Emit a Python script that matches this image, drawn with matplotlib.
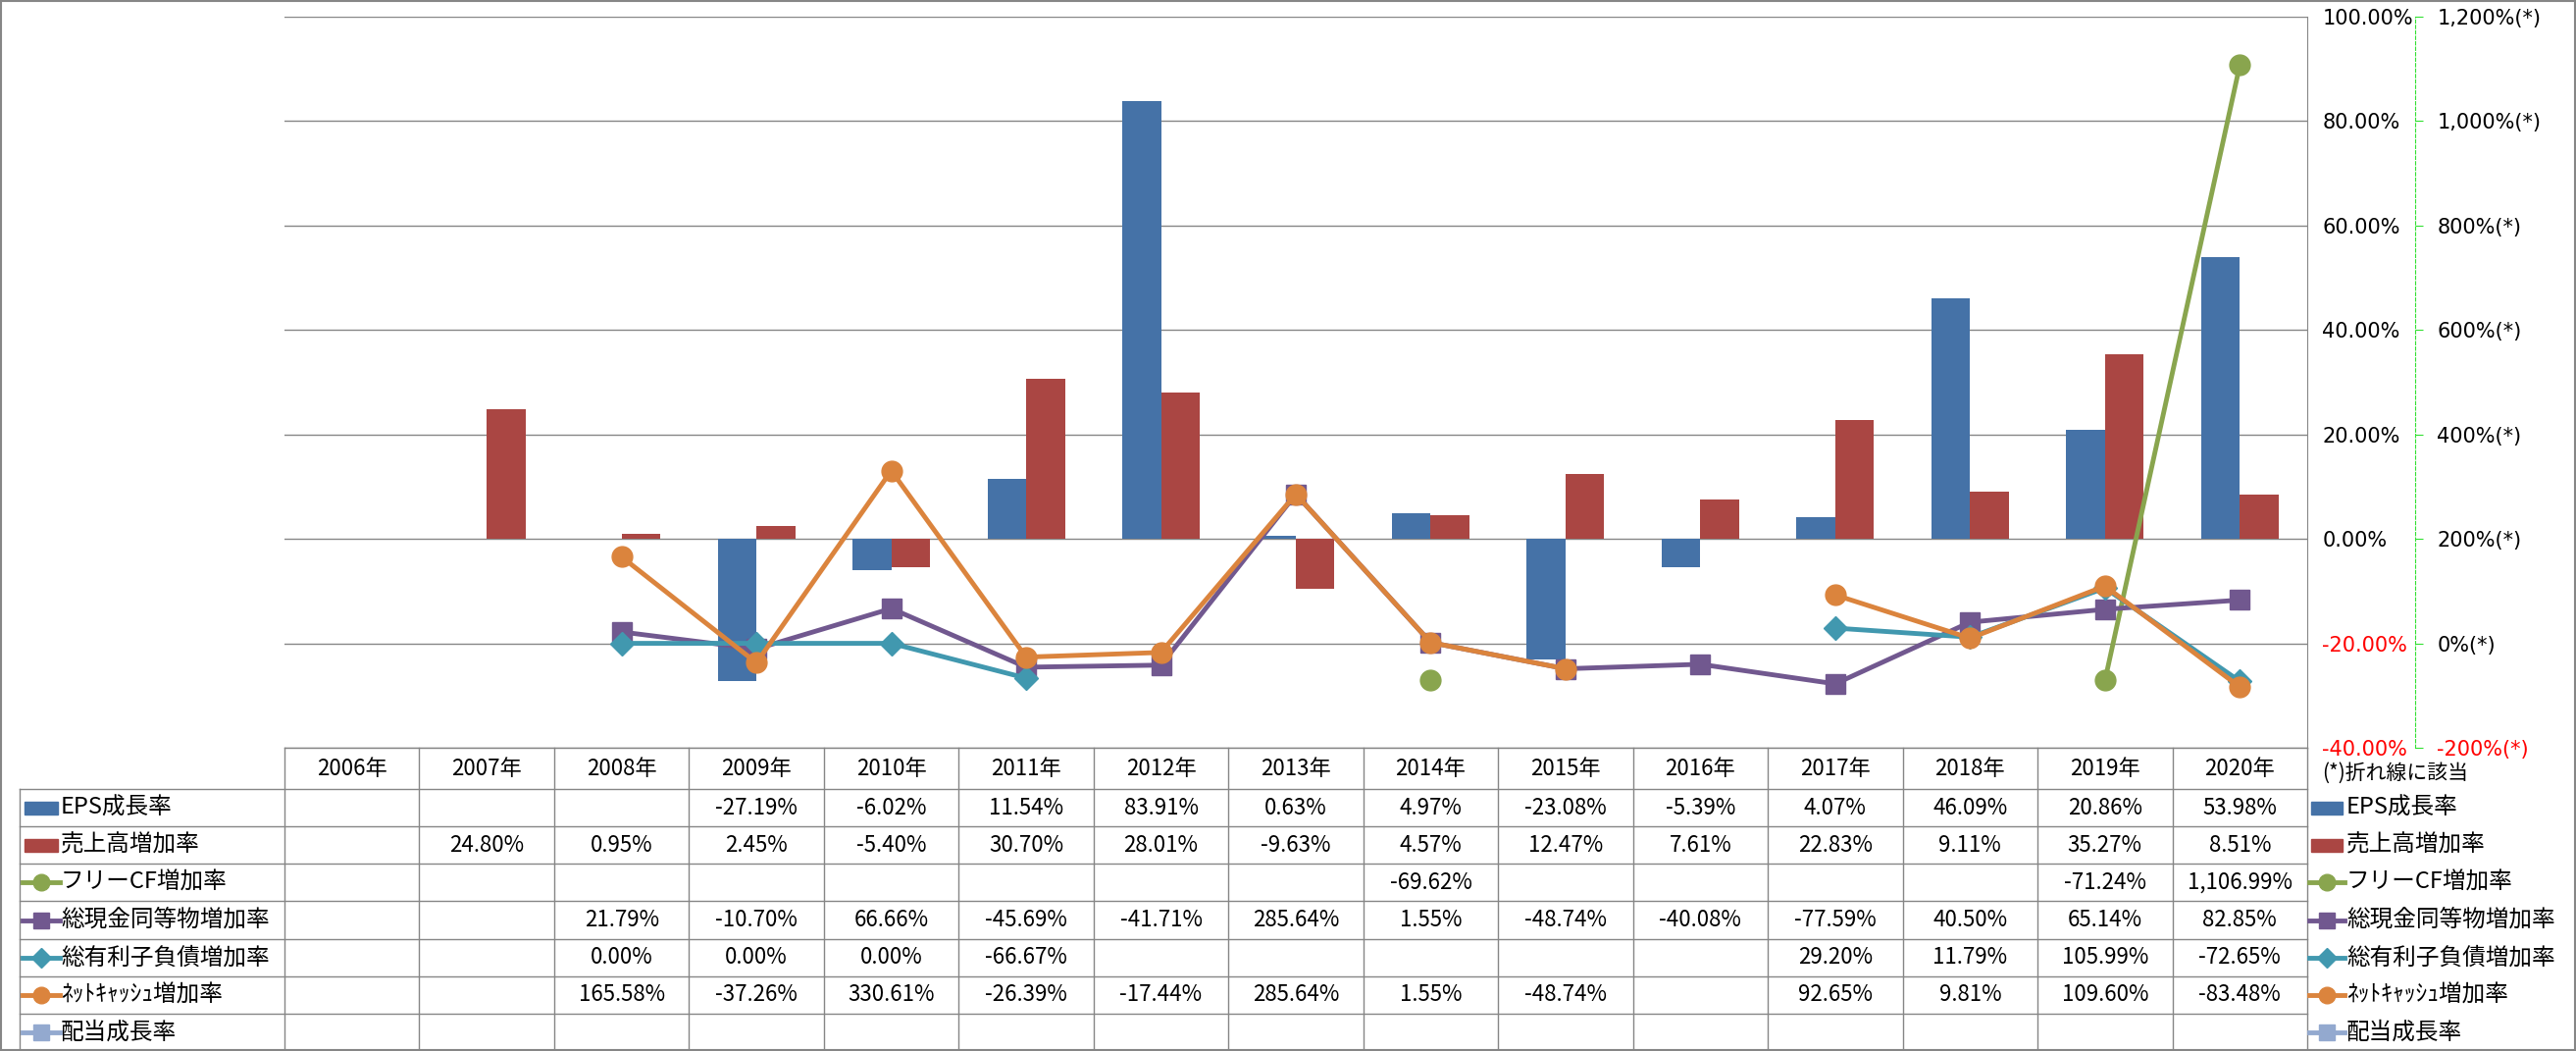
import numpy as np
import matplotlib.pyplot as plt
from matplotlib.patches import Rectangle

plt.rcParams['font.family'] = ['Noto Sans CJK JP', 'DejaVu Sans']

nan = np.nan
years = ['2006年', '2007年', '2008年', '2009年', '2010年', '2011年', '2012年', '2013年',
         '2014年', '2015年', '2016年', '2017年', '2018年', '2019年', '2020年']

# 棒グラフ (左軸)
eps = [nan, nan, nan, -27.19, -6.02, 11.54, 83.91, 0.63, 4.97, -23.08, -5.39, 4.07, 46.09, 20.86, 53.98]
sales = [nan, 24.80, 0.95, 2.45, -5.40, 30.70, 28.01, -9.63, 4.57, 12.47, 7.61, 22.83, 9.11, 35.27, 8.51]

# 折れ線 (右軸)
free_cf = [nan] * 8 + [-69.62] + [nan] * 4 + [-71.24, 1106.99]
cash = [nan, nan, 21.79, -10.70, 66.66, -45.69, -41.71, 285.64, 1.55, -48.74, -40.08, -77.59, 40.50, 65.14, 82.85]
debt = [nan, nan, 0.00, 0.00, 0.00, -66.67, nan, nan, nan, nan, nan, 29.20, 11.79, 105.99, -72.65]
netcash = [nan, nan, 165.58, -37.26, 330.61, -26.39, -17.44, 285.64, 1.55, -48.74, nan, 92.65, 9.81, 109.60, -83.48]
dividend = [nan] * 15

left_ticks = [-40, -20, 0, 20, 40, 60, 80, 100]
right_ticks = [-200, 0, 200, 400, 600, 800, 1000, 1200]

# 系列の定義: (名前, データ, 種類, 色, マーカー)
series = [
    ('EPS成長率', eps, 'bar', '#4572A7', None),
    ('売上高増加率', sales, 'bar', '#AA4643', None),
    ('フリーCF増加率', free_cf, 'line', '#89A54E', 'o'),
    ('総現金同等物増加率', cash, 'line', '#71588F', 's'),
    ('総有利子負債増加率', debt, 'line', '#4198AF', 'D'),
    ('ﾈｯﾄｷｬｯｼｭ増加率', netcash, 'line', '#DB843D', 'o'),
    ('配当成長率', dividend, 'line', '#93A9CF', 's'),
]

W, H = 2626, 1071
p_left, p_right, p_top, p_bottom = 290, 2352, 17, 762
grid_c = '#868686'

fig = plt.figure(figsize=(W / 100, H / 100), dpi=100)
ax = fig.add_axes([p_left / W, 1 - p_bottom / H, (p_right - p_left) / W, (p_bottom - p_top) / H])

x = np.arange(len(years))
w = 0.287
ax.bar(x - w / 2, eps, w, color='#4572A7', zorder=2)
ax.bar(x + w / 2, sales, w, color='#AA4643', zorder=2)
ax.set_xlim(-0.5, len(years) - 0.5)
ax.set_ylim(-40, 100)
ax.set_xticks([])
ax.grid(axis='y', color=grid_c, lw=1.0, zorder=0)
for s in ['left', 'top', 'bottom']:
    ax.spines[s].set_visible(False)
ax.spines['right'].set_color(grid_c)

# 右軸 (折れ線用)
ax2 = ax.twinx()
ax2.set_ylim(-200, 1200)
for name, data, kind, col, mk in series:
    if kind != 'line':
        continue
    msz = {'o': 15, 's': 14, 'D': 12}[mk]
    ax2.plot(x, data, color=col, lw=3.5, marker=mk, markersize=msz, zorder=3)
for s in ['left', 'top', 'bottom']:
    ax2.spines[s].set_visible(False)
ax2.spines['right'].set_position(('axes', (2462 - p_left) / (p_right - p_left)))
ax2.spines['right'].set_color('#33E033')
ax2.spines['right'].set_linestyle((0, (3, 2)))

# 左軸の目盛ラベルを右側に
ax.yaxis.set_ticks_position('right')
ax.set_yticks(left_ticks)
ax.set_yticklabels([f'{t:.2f}%' for t in left_ticks])
ax.tick_params(axis='y', left=False, right=False, labelleft=False, labelright=True,
               length=0, pad=11, labelsize=15, labelfontfamily='DejaVu Sans')
for tk, t in zip(ax.yaxis.get_major_ticks(), left_ticks):
    tk.label2.set_color('red' if t < 0 else 'black')

ax2.set_yticks(right_ticks)
ax2.set_yticklabels([f'{t:,}%(*)' for t in right_ticks])
ax2.tick_params(axis='y', direction='out', length=6, color='#33E033', pad=10,
                labelsize=15, labelfontfamily='DejaVu Sans')
for tk, t in zip(ax2.yaxis.get_major_ticks(), right_ticks):
    tk.label2.set_color('red' if t < 0 else 'black')

# データテーブル
tb = fig.add_axes([0, 0, 1, 1])
tb.set_xlim(0, W)
tb.set_ylim(H, 0)
tb.axis('off')

col_w = (p_right - p_left) / len(years)
head_top, head_bot = p_bottom, 804
row_h = (H - head_bot) / len(series)
lab_left = 20

tb.plot([p_left, p_right], [head_top, head_top], color=grid_c, lw=1)
for i in range(len(years) + 1):
    xx = p_left + i * col_w
    tb.plot([xx, xx], [head_top, H], color=grid_c, lw=1)
for j in range(len(series) + 1):
    yy = head_bot + j * row_h
    tb.plot([lab_left, p_right], [yy, yy], color=grid_c, lw=1)
tb.plot([lab_left, lab_left], [head_bot, H], color=grid_c, lw=1)

for i, yr in enumerate(years):
    tb.text(p_left + (i + 0.5) * col_w, (head_top + head_bot) / 2, yr,
            ha='center', va='center', fontsize=16)


def legend_symbol(x0, x1, yc, kind, col, mk):
    if kind == 'bar':
        tb.add_patch(Rectangle((x0 + 2, yc - 6.5), x1 - x0 - 4, 13, color=col))
    else:
        tb.plot([x0, x1], [yc, yc], color=col, lw=3.5)
        msz = {'o': 12, 's': 11, 'D': 10}[mk]
        tb.plot([(x0 + x1) / 2], [yc], marker=mk, color=col, markersize=msz)


for j, (name, data, kind, col, mk) in enumerate(series):
    yc = head_bot + (j + 0.5) * row_h
    legend_symbol(23, 61, yc, kind, col, mk)
    tb.text(62, yc, name, ha='left', va='center', fontsize=17)
    legend_symbol(2354, 2390, yc, kind, col, mk)
    tb.text(2392, yc, name, ha='left', va='center', fontsize=17)
    for i, v in enumerate(data):
        if not np.isnan(v):
            tb.text(p_left + (i + 0.5) * col_w, yc, f'{v:,.2f}%',
                    ha='center', va='center', fontsize=16)

tb.text(2367, 788, '(*)折れ線に該当', ha='left', va='center', fontsize=15)

# 外枠
tb.add_patch(Rectangle((1, 1), W - 2, H - 2, fill=False, edgecolor=grid_c, lw=1.5))

fig.savefig('out.png', dpi=100)
